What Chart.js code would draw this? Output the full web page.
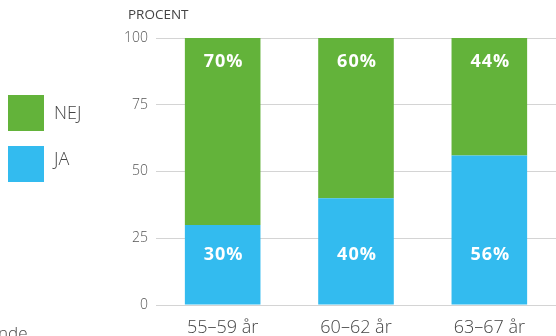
<!DOCTYPE html>
<html>
<head>
<meta charset="utf-8">
<script src="https://cdn.jsdelivr.net/npm/chart.js@4/dist/chart.umd.min.js"></script>
<style>
  html, body { margin: 0; padding: 0; background: #fff; overflow: hidden; }
  #wrap { position: relative; width: 556px; height: 336px; font-family: "Open Sans", sans-serif; }
  #c { position: absolute; left: 0; top: 0; }
  .unit { position: absolute; left: 128px; top: 5px; font-size: 13.5px; color: #444; }
  .leg { position: absolute; left: 8px; width: 36px; height: 36px; }
  .legtxt { position: absolute; left: 54px; font-size: 18px; font-weight: 300; color: #444; }
  .foot { position: absolute; left: -2px; top: 321px; font-size: 17px; font-weight: 300; color: #444; }
</style>
</head>
<body>
<div id="wrap">
  <canvas id="c" width="556" height="336"></canvas>
  <div class="unit">PROCENT</div>
  <div class="leg" style="top:95px;background:#63b33a"></div>
  <div class="legtxt" style="top:100px">NEJ</div>
  <div class="leg" style="top:146px;background:#33bbef"></div>
  <div class="legtxt" style="top:146px">JA</div>
  <div class="foot">nde</div>
</div>
<script>
  const ageGroups = ['55–59 år', '60–62 år', '63–67 år'];
  const jaValues = [30, 40, 56];
  const nejValues = [70, 60, 44];
  const yTicks = [0, 25, 50, 75, 100];

  const GREEN = '#63b33a', BLUE = '#33bbef';

  // white percent labels: JA near the bottom of the bar, NEJ near the top
  const pctLabels = {
    id: 'pctLabels',
    afterDatasetsDraw(chart) {
      const ctx = chart.ctx;
      ctx.save();
      ctx.fillStyle = '#fff';
      ctx.font = 'bold 18px "Open Sans"';
      ctx.letterSpacing = '1px';
      ctx.textAlign = 'center';
      ctx.textBaseline = 'middle';
      chart.data.datasets.forEach((ds, i) => {
        chart.getDatasetMeta(i).data.forEach((bar, j) => {
          const y = ds.label === 'JA' ? bar.base - 50 : bar.y + 24;
          ctx.fillText(ds.data[j] + '%', bar.x + 1, y);
        });
      });
      ctx.restore();
    }
  };

  new Chart(document.getElementById('c'), {
    type: 'bar',
    data: {
      labels: ageGroups,
      datasets: [
        { label: 'JA', data: jaValues, backgroundColor: BLUE },
        { label: 'NEJ', data: nejValues, backgroundColor: GREEN }
      ]
    },
    options: {
      responsive: false,
      animation: false,
      layout: { padding: { top: 38, right: 0, bottom: 0, left: 0 } },
      plugins: { legend: { display: false }, tooltip: { enabled: false } },
      datasets: { bar: { barPercentage: 0.567, categoryPercentage: 1 } },
      scales: {
        x: {
          stacked: true,
          grid: { display: false },
          border: { display: false },
          ticks: { color: '#444', font: { family: 'Open Sans', size: 18, weight: 300 }, padding: 4 },
          afterFit: s => { s.height = 31; }
        },
        y: {
          stacked: true,
          min: 0, max: 100,
          afterBuildTicks: s => { s.ticks = yTicks.map(v => ({ value: v })); },
          grid: { color: '#d4d4d4', lineWidth: 1, drawTicks: false },
          border: { display: false },
          ticks: { color: '#555', font: { family: 'Open Sans', size: 14, weight: 300 }, padding: 8 },
          afterFit: s => { s.width = 156; }
        }
      }
    },
    plugins: [pctLabels]
  });
</script>
</body>
</html>
